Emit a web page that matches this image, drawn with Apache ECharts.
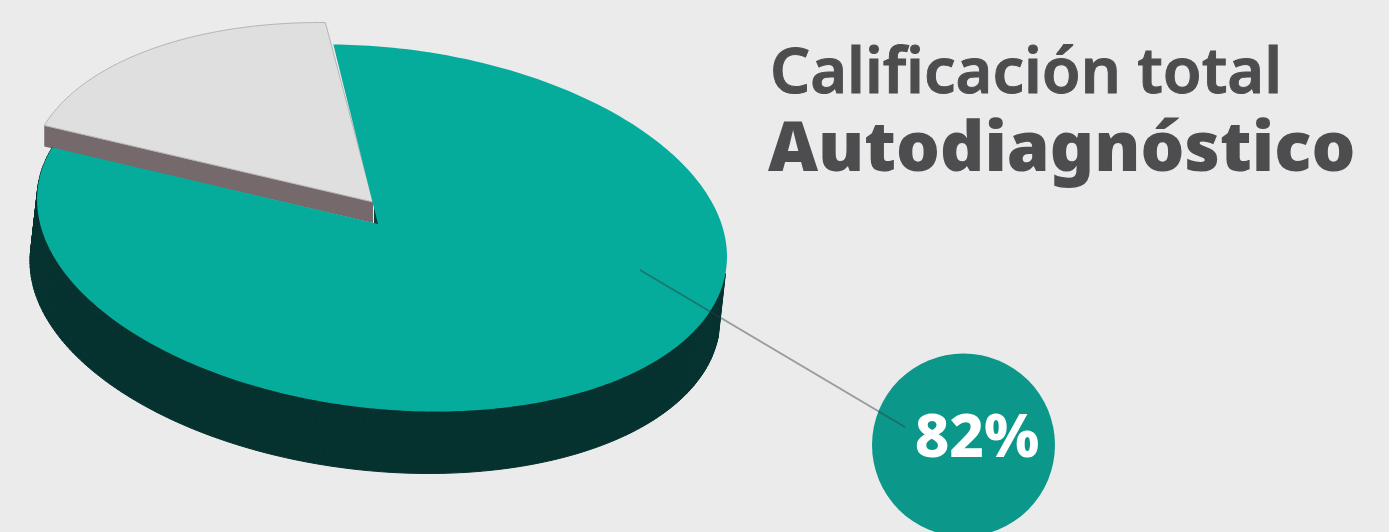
<!DOCTYPE html>
<html>
<head>
<meta charset="utf-8">
<style>html,body{margin:0;padding:0;background:#ebebeb;overflow:hidden}#c{width:1389px;height:532px}</style>
<script src="https://cdn.jsdelivr.net/npm/echarts@6/dist/echarts.min.js"></script>
</head>
<body>
<div id="c"></div>
<script>
// Data
const categories = ['Pendiente', 'Calificación total'];
const values = [18, 82];
const titleLines = ['Calificación total', 'Autodiagnóstico'];

// Geometry and style
const CX = 382, CY = 228, RX = 346.6, RY = 180.4, TILT = 6.5 * Math.PI / 180;
const APEX = [378, 224];
const START = 101.5;
const SIDE_END = 358;
const DEPTH = [-7, 62];
const LIFT = [-8, -22];
const APEX_LIFT = [-5, -22];
const WALL = 21;
const colors = ['#dfdfdf', '#05ab9b'];

const total = values.reduce((a, b) => a + b, 0);
function pt(aDeg, off) {
  const a = aDeg * Math.PI / 180;
  const lx = RX * Math.cos(a), ly = -RY * Math.sin(a);
  return [
    CX + (off ? off[0] : 0) + lx * Math.cos(TILT) - ly * Math.sin(TILT),
    CY + (off ? off[1] : 0) + lx * Math.sin(TILT) + ly * Math.cos(TILT)
  ];
}
function arc(a0, a1, off) {
  const n = Math.max(2, Math.ceil(Math.abs(a1 - a0)));
  const out = [];
  for (let i = 0; i <= n; i++) out.push(pt(a0 + (a1 - a0) * i / n, off));
  return out;
}
function poly(points, fill, stroke, w) {
  return { type: 'polygon', shape: { points }, style: { fill, stroke: stroke || null, lineWidth: w || 0 } };
}

function renderItem(params, api) {
  const idx = params.dataIndex;
  let before = 0;
  for (let i = 0; i < idx; i++) before += values[i];
  const v = api.value(0);
  const a0 = START + before / total * 360;
  const a1 = a0 + v / total * 360;
  const children = [];
  if (idx === 0) {
    const apex = [APEX[0] + APEX_LIFT[0], APEX[1] + APEX_LIFT[1]];
    const outerEnd = pt(a1, LIFT);
    // grey wall of the lifted wedge
    children.push(poly([apex, outerEnd, [outerEnd[0], outerEnd[1] + WALL], [apex[0], apex[1] + WALL]], '#75696b'));
    children.push(poly([[apex[0] + 1, apex[1] + 5], [apex[0] + 6, apex[1] + 9], [apex[0] + 7, apex[1] + 25], [apex[0] + 1, apex[1] + 23]], '#07403c'));
    children.push(poly([apex].concat(arc(a0, a1, LIFT)), colors[0], '#b5b5b5', 1));
  } else {
    // dark side of the slab, front part only
    const end = Math.min(a1, SIDE_END);
    const strip = arc(a0, end);
    const low = arc(a0, end, DEPTH);
    for (let i = 0; i < strip.length - 1; i++) {
      children.push(poly([strip[i], strip[i + 1], low[i + 1], low[i]], '#05322f', '#05322f', 1));
    }
    children.push(poly([APEX].concat(arc(a0, a1)), colors[1]));
    // leader line and value bubble
    children.push({ type: 'circle', shape: { cx: 963.5, cy: 445, r: 91.5 }, style: { fill: '#0b978a' } });
    children.push({ type: 'line', shape: { x1: 640, y1: 270, x2: 905, y2: 427 }, style: { stroke: 'rgba(50,60,60,0.45)', lineWidth: 2 } });
    children.push({ type: 'text', style: { x: 977, y: 440, text: v + '%', fill: '#ffffff', font: '800 60px "Noto Sans", sans-serif', align: 'center', verticalAlign: 'middle' } });
  }
  return { type: 'group', children };
}

const chart = echarts.init(document.getElementById('c'), null, { renderer: 'canvas' });
chart.setOption({
  animation: false,
  backgroundColor: '#ebebeb',
  title: [
    { text: titleLines[0], left: 765, top: 39, textStyle: { color: '#4d4d4f', fontFamily: 'Noto Sans', fontWeight: 600, fontSize: 63, textBorderColor: '#4d4d4f', textBorderWidth: 1 } },
    { text: titleLines[1], left: 763, top: 112, textStyle: { color: '#4d4d4f', fontFamily: 'Noto Sans', fontWeight: 900, fontSize: 69 } }
  ],
  series: [{
    type: 'custom',
    coordinateSystem: 'none',
    silent: true,
    renderItem,
    data: categories.map((name, i) => ({ name, value: [values[i]] }))
  }]
});
</script>
</body>
</html>
